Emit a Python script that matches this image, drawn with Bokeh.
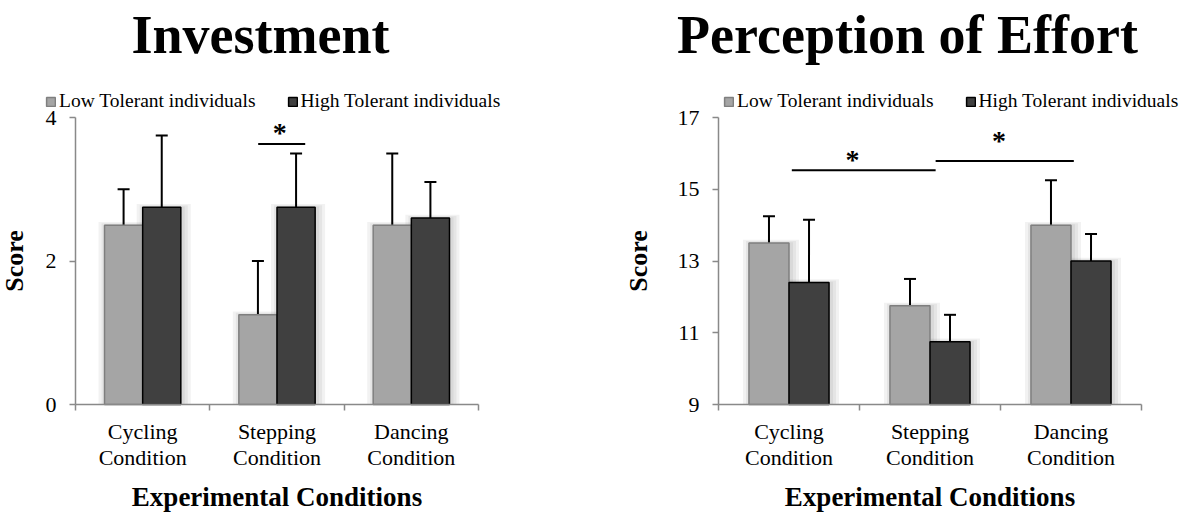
from bokeh.plotting import figure
from bokeh.models import (Range1d, FixedTicker, Whisker, TeeHead, ColumnDataSource,
                          Legend, LegendItem, Label)
from bokeh.layouts import row
from bokeh.embed import file_html
from bokeh.resources import INLINE
from bokeh.core.properties import value

# ---------------- data ----------------
conditions = ["Cycling\nCondition", "Stepping\nCondition", "Dancing\nCondition"]
series = ["Low Tolerant individuals", "High Tolerant individuals"]

inv_low = [2.5, 1.25, 2.5]
inv_low_err = [0.5, 0.75, 1.0]
inv_high = [2.75, 2.75, 2.6]
inv_high_err = [1.0, 0.75, 0.5]
inv_ticks = [0, 2, 4]

eff_low = [13.5, 11.75, 14.0]
eff_low_err = [0.75, 0.75, 1.25]
eff_high = [12.4, 10.75, 13.0]
eff_high_err = [1.75, 0.75, 0.75]
eff_ticks = [9, 11, 13, 15, 17]

# significance markers: line start, line end, line level, star x, star level
inv_sig_x0 = [1.36]
inv_sig_x1 = [1.71]
inv_sig_y = [3.63]
inv_star_x = [1.52]
inv_star_y = [3.86]

eff_sig_x0 = [0.52, 1.54]
eff_sig_x1 = [1.54, 2.52]
eff_sig_y = [15.53, 15.79]
eff_star_x = [0.95, 1.99]
eff_star_y = [15.97, 16.49]

# ---------------- style / layout ----------------
SERIF = "Liberation Serif"
AXIS_COL = "#898989"
LOW_FILL, LOW_LINE = "#a5a5a5", "#7f7f7f"
HIGH_FILL, HIGH_LINE = "#404040", "#000000"
BAR_W = 0.284
CANVAS_H = 513
PLOT_TOP, PLOT_BOTTOM = 117, 404      # y pixel of top / bottom tick inside canvas


def make_chart(title, low, low_err, high, high_err, ticks, sig_x0, sig_x1, sig_y,
               star_x, star_y, width, axis_px, end_px, legend_px, score_standoff,
               title_px):
    ymin, ymax = ticks[0], ticks[-1]
    ncat = len(conditions)
    ppx = (end_px - axis_px) / ncat                 # pixels per category
    ppy = (PLOT_BOTTOM - PLOT_TOP) / (ymax - ymin)  # pixels per score unit
    x_range = Range1d(-axis_px / ppx, ncat + (width - end_px) / ppx)
    y_range = Range1d(ymin - (CANVAS_H - PLOT_BOTTOM) / ppy, ymax + PLOT_TOP / ppy)

    p = figure(width=width, height=CANVAS_H, output_backend="svg", toolbar_location=None,
               x_range=x_range, y_range=y_range, min_border=0, title_location=None)
    p.outline_line_color = None
    p.xgrid.visible = False
    p.ygrid.visible = False

    px_x = 1 / ppx
    px_y = 1 / ppy

    centers = [i + 0.5 for i in range(ncat)]
    x_low = [c - BAR_W / 2 for c in centers]
    x_high = [c + BAR_W / 2 for c in centers]

    # soft shadow
    for e in (8, 5, 2):
        for xs, vals in ((x_low, low), (x_high, high)):
            p.vbar(x=[x + 2 * px_x for x in xs], width=BAR_W + 2 * e * px_x,
                   top=[v + 0.4 * e * px_y for v in vals], bottom=ymin,
                   fill_color="black", fill_alpha=0.05, line_alpha=0)

    r_low = p.vbar(x=x_low, width=BAR_W, top=low, bottom=ymin,
                   fill_color=LOW_FILL, line_color=LOW_LINE, line_width=1.5)
    r_high = p.vbar(x=x_high, width=BAR_W, top=high, bottom=ymin,
                    fill_color=HIGH_FILL, line_color=HIGH_LINE, line_width=1.5)

    for xs, vals, errs in ((x_low, low, low_err), (x_high, high, high_err)):
        src = ColumnDataSource(dict(x=xs,
                                    upper=[v + e for v, e in zip(vals, errs)],
                                    lower=[v - e for v, e in zip(vals, errs)]))
        w = Whisker(source=src, base="x", upper="upper", lower="lower",
                    line_color="black", line_width=2,
                    upper_head=TeeHead(size=12, line_width=2, line_color="black"),
                    lower_head=TeeHead(size=12, line_width=2, line_color="black"))
        p.add_layout(w)

    p.segment(x0=sig_x0, y0=sig_y, x1=sig_x1, y1=sig_y, line_color="black", line_width=2)
    p.text(x=star_x, y=star_y, text=["*"] * len(star_x), text_font=value(SERIF),
           text_font_size="28px", text_font_style="bold", text_align="center",
           text_baseline="middle", y_offset=5, text_color="black")

    # axes (drawn at fixed data positions)
    xa = p.xaxis[0]
    xa.fixed_location = ymin
    xa.bounds = (0, ncat)
    xa.ticker = FixedTicker(ticks=centers, minor_ticks=list(range(ncat + 1)))
    xa.major_label_overrides = {c: lab for c, lab in zip(centers, conditions)}
    xa.major_tick_out = 0
    xa.major_tick_in = 0
    xa.minor_tick_out = 6
    xa.minor_tick_in = 0
    xa.minor_tick_line_color = AXIS_COL
    xa.minor_tick_line_width = 1.5
    xa.axis_line_color = AXIS_COL
    xa.axis_line_width = 1.5
    xa.major_label_text_font = SERIF
    xa.major_label_text_font_size = "22px"
    xa.major_label_text_color = "black"
    xa.major_label_text_line_height = 1.04
    xa.major_label_standoff = 8
    xa.axis_label = "Experimental Conditions"
    xa.axis_label_text_font = SERIF
    xa.axis_label_text_font_size = "27px"
    xa.axis_label_text_font_style = "bold"
    xa.axis_label_text_color = "black"
    xa.axis_label_standoff = 9

    ya = p.yaxis[0]
    ya.fixed_location = 0
    ya.bounds = (ymin, ymax)
    ya.ticker = FixedTicker(ticks=ticks, minor_ticks=[])
    ya.major_tick_out = 6
    ya.major_tick_in = 0
    ya.minor_tick_out = 0
    ya.minor_tick_in = 0
    ya.major_tick_line_color = AXIS_COL
    ya.major_tick_line_width = 1.5
    ya.axis_line_color = AXIS_COL
    ya.axis_line_width = 1.5
    ya.major_label_text_font = SERIF
    ya.major_label_text_font_size = "22px"
    ya.major_label_text_color = "black"
    ya.major_label_standoff = 13
    ya.axis_label = "Score"
    ya.axis_label_text_font = SERIF
    ya.axis_label_text_font_size = "26px"
    ya.axis_label_text_font_style = "bold"
    ya.axis_label_text_color = "black"
    ya.axis_label_standoff = score_standoff

    legend = Legend(items=[LegendItem(label=series[0], renderers=[r_low]),
                           LegendItem(label=series[1], renderers=[r_high])],
                    orientation="horizontal", location=(legend_px, CANVAS_H - 112),
                    label_text_font=SERIF, label_text_font_size="19.5px",
                    label_text_color="black", glyph_width=11, glyph_height=11,
                    label_standoff=3, spacing=31, padding=0, margin=0,
                    border_line_alpha=0, background_fill_alpha=0)
    p.add_layout(legend)

    p.add_layout(Label(x=title_px, y=CANVAS_H - 34, x_units="screen", y_units="screen",
                       text=title, text_font=SERIF, text_font_size="54px",
                       text_font_style="bold", text_align="center",
                       text_baseline="alphabetic", text_color="black"))
    return p


p1 = make_chart("Investment", inv_low, inv_low_err, inv_high, inv_high_err, inv_ticks,
                inv_sig_x0, inv_sig_x1, inv_sig_y, inv_star_x, inv_star_y,
                width=592, axis_px=75, end_px=478, legend_px=45,
                score_standoff=14, title_px=260)
p2 = make_chart("Perception of Effort", eff_low, eff_low_err, eff_high, eff_high_err,
                eff_ticks, eff_sig_x0, eff_sig_x1, eff_sig_y, eff_star_x, eff_star_y,
                width=590, axis_px=126, end_px=549, legend_px=131,
                score_standoff=22, title_px=315)

layout = row(p1, p2)
open("out.html", "w").write(file_html(layout, INLINE))
